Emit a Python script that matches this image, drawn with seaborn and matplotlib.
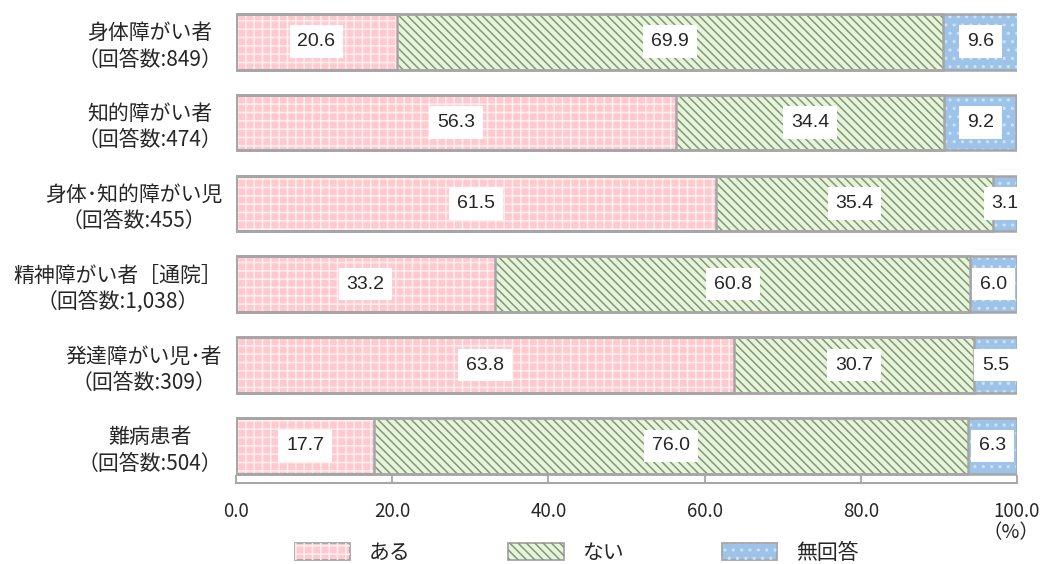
import matplotlib
matplotlib.use("Agg")
import matplotlib.pyplot as plt
from matplotlib.patches import Patch, Rectangle
from matplotlib.legend_handler import HandlerTuple
import pandas as pd
import seaborn as sns

# data
groups = [
    "身体障がい者\n（回答数:849）",
    "知的障がい者\n（回答数:474）",
    "身体･知的障がい児\n（回答数:455）",
    "精神障がい者［通院］\n（回答数:1,038）",
    "発達障がい児･者\n（回答数:309）",
    "難病患者\n（回答数:504）",
]
aru = [20.6, 56.3, 61.5, 33.2, 63.8, 17.7]
nai = [69.9, 34.4, 35.4, 60.8, 30.7, 76.0]
mukaito = [9.6, 9.2, 3.1, 6.0, 5.5, 6.3]
series_names = ["ある", "ない", "無回答"]
x_ticks = [0, 20, 40, 60, 80, 100]

fills = ["#FFC9CF", "#E8F3DC", "#9DC3E8"]
hatch_colors = ["#FFF0F0", "#7F9A74", "#CFE2F5"]
hatches = ["++", "\\\\\\\\", ".."]
edge = "#A6A6A6"

cjk = ["Noto Sans CJK JP", "DejaVu Sans"]

sns.set_theme(style="white")
plt.rcParams["font.family"] = cjk
plt.rcParams["hatch.linewidth"] = 1.1

df = pd.DataFrame({"group": groups, "ある": aru, "ない": nai, "無回答": mukaito})
df["cum1"] = df["ある"]
df["cum2"] = df["ある"] + df["ない"]
df["cum3"] = df["cum2"] + df["無回答"]

fig = plt.figure(figsize=(10.43, 5.64), dpi=100)
ax = fig.add_axes([0.2263, 0.1436, 0.7488, 0.854])

# stacked bars drawn as cumulative layers, widest first
layers = [("cum3", 2), ("cum2", 1), ("cum1", 0)]
fill_patches = []
for col, i in layers:
    n0 = len(ax.patches)
    sns.barplot(data=df, x=col, y="group", orient="h", color=fills[i],
                saturation=1, width=0.69, linewidth=0, ax=ax)
    new = ax.patches[n0:]
    for p in new:
        p.set_facecolor(fills[i])
        h = Rectangle(p.get_xy(), p.get_width(), p.get_height(),
                      facecolor="none", edgecolor=hatch_colors[i],
                      linewidth=0, hatch=hatches[i], zorder=p.get_zorder())
        ax.add_patch(h)
    fill_patches.append(new)

for new in fill_patches:
    for p in new:
        ax.add_patch(Rectangle(p.get_xy(), p.get_width(), p.get_height(),
                               facecolor="none", edgecolor=edge,
                               linewidth=1.8, zorder=3))

# value labels in white boxes
for k in range(len(groups)):
    lefts = [0, aru[k], aru[k] + nai[k]]
    vals = [aru[k], nai[k], mukaito[k]]
    for left, v in zip(lefts, vals):
        ax.text(left + v / 2, k, f"{v:.1f}", ha="center", va="center",
                fontsize=14, family=["Liberation Sans", "DejaVu Sans"],
                zorder=5,
                bbox=dict(boxstyle="square,pad=0.4", facecolor="white",
                          edgecolor="none"))

ax.set_xlim(0, 100)
ax.set_ylim(5.46, -0.5)
ax.set_xticks(x_ticks)
ax.set_xticklabels([f"{t:.1f}" for t in x_ticks], fontsize=13.5)
ax.set_xlabel("")
ax.set_ylabel("")
ax.tick_params(axis="x", direction="in", length=6, width=1.3, color=edge,
               pad=13, bottom=True)
ax.tick_params(axis="y", length=0, pad=10)
for t in ax.get_yticklabels():
    t.set_multialignment("center")
    t.set_fontsize(15)
    t.set_linespacing(1.25)
for s in ["top", "left", "right"]:
    ax.spines[s].set_visible(False)
ax.spines["bottom"].set_color(edge)
ax.spines["bottom"].set_linewidth(1.5)

ax.text(99.2, -0.104, "（%）", transform=ax.get_xaxis_transform(),
        ha="center", va="center", fontsize=14)

handles = []
for i in range(3):
    handles.append((Patch(facecolor=fills[i], edgecolor=edge, linewidth=1.3),
                    Patch(facecolor="none", edgecolor=hatch_colors[i],
                          linewidth=0, hatch=hatches[i])))
fig.legend(handles, series_names, ncol=3, loc="center",
           bbox_to_anchor=(0.553, 0.02), frameon=False,
           prop={"size": 15},
           handler_map={tuple: HandlerTuple(ndivide=1, pad=0)},
           handlelength=2.65, handleheight=0.85, columnspacing=4.7,
           handletextpad=0.9)

fig.savefig("out.png", dpi=100, facecolor="white")
